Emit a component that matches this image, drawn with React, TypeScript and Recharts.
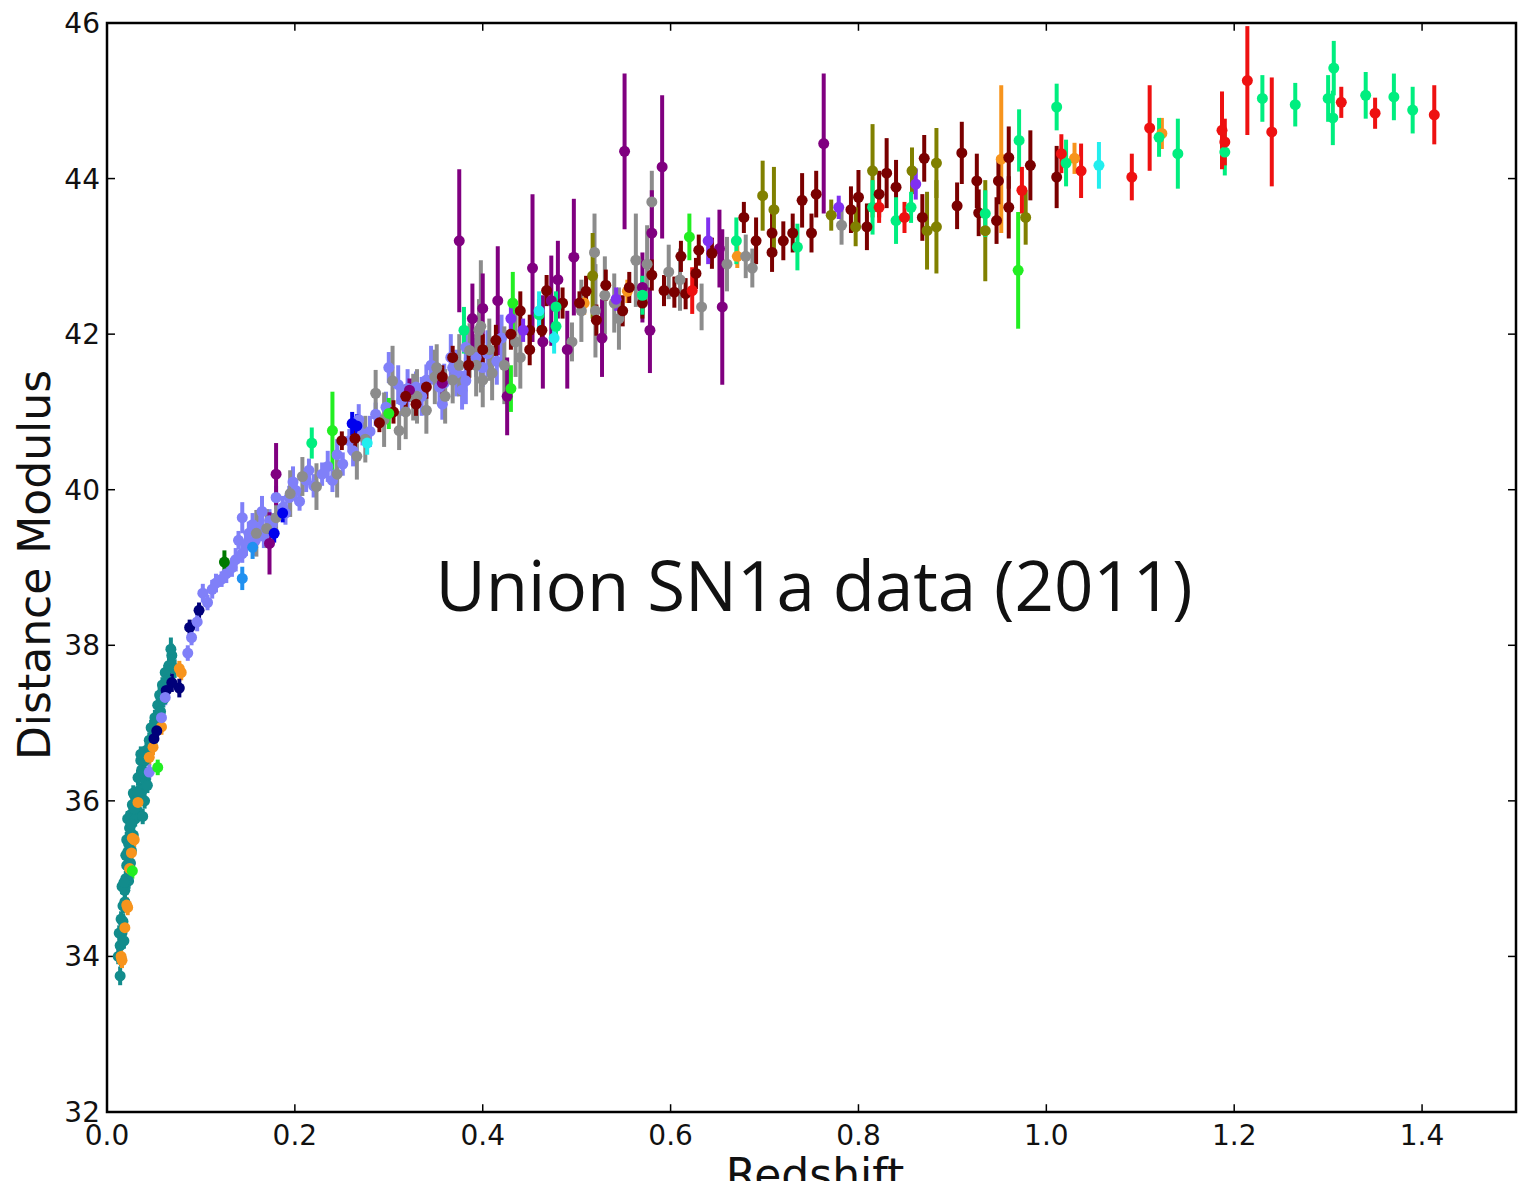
import { ScatterChart, Scatter, XAxis, YAxis, ErrorBar, ReferenceArea, ReferenceLine } from 'recharts'

// each point: [redshift, distance modulus, 1-sigma error]
type Pt = [number, number, number]

const teal: Pt[] = [
  [0.014, 33.75, 0.12], [0.015, 33.97, 0.1], [0.014, 34.14, 0.1], [0.016, 34.3, 0.1], [0.015, 34.48, 0.1],
  [0.017, 34.65, 0.1], [0.019, 34.85, 0.1], [0.02, 35.0, 0.1], [0.021, 35.17, 0.1], [0.022, 35.34, 0.1],
  [0.021, 35.5, 0.1], [0.024, 35.65, 0.1], [0.025, 35.82, 0.1], [0.027, 35.95, 0.1], [0.029, 36.08, 0.1],
  [0.032, 35.88, 0.1], [0.035, 36.14, 0.1], [0.033, 36.3, 0.1], [0.037, 36.4, 0.1], [0.04, 36.52, 0.1],
  [0.042, 36.65, 0.1], [0.045, 36.78, 0.1], [0.047, 36.94, 0.1], [0.051, 37.07, 0.1], [0.054, 37.23, 0.1],
  [0.056, 37.36, 0.1], [0.059, 37.49, 0.1], [0.062, 37.65, 0.1], [0.066, 37.74, 0.15], [0.069, 37.87, 0.15],
  [0.019, 34.7, 0.1], [0.023, 34.97, 0.1], [0.026, 35.36, 0.1], [0.028, 35.56, 0.1], [0.022, 35.77, 0.1],
  [0.03, 35.77, 0.1], [0.034, 36.01, 0.1], [0.038, 36.14, 0.1], [0.036, 36.52, 0.1], [0.041, 36.27, 0.1],
  [0.013, 34.3, 0.1], [0.018, 34.2, 0.1], [0.016, 34.9, 0.1], [0.02, 35.3, 0.1], [0.028, 36.1, 0.1],
  [0.031, 36.0, 0.1], [0.072, 37.7, 0.12], [0.012, 34.0, 0.1], [0.017, 34.45, 0.1], [0.018, 34.95, 0.1],
  [0.023, 35.45, 0.1], [0.025, 35.2, 0.1], [0.026, 35.7, 0.1], [0.029, 35.9, 0.1], [0.033, 36.1, 0.1],
  [0.039, 36.35, 0.1], [0.043, 36.55, 0.1], [0.048, 36.75, 0.1], [0.052, 37.0, 0.1], [0.057, 37.15, 0.1],
  [0.06, 37.3, 0.1], [0.064, 37.55, 0.12], [0.068, 37.95, 0.15], [0.04, 36.0, 0.1], [0.043, 36.2, 0.1],
  [0.038, 35.8, 0.1], [0.036, 36.6, 0.1],
]

const orange: Pt[] = [
  [0.016, 33.95, 0.1], [0.019, 34.37, 0.1], [0.021, 34.66, 0.1], [0.024, 35.13, 0.1], [0.026, 35.33, 0.1],
  [0.029, 35.5, 0.1], [0.033, 35.98, 0.1], [0.045, 36.56, 0.1], [0.049, 36.69, 0.1], [0.058, 36.95, 0.1],
  [0.079, 37.65, 0.1], [0.077, 37.7, 0.1], [0.015, 34.0, 0.1], [0.022, 34.63, 0.1], [0.027, 35.52, 0.1],
  [0.508, 42.4, 0.15], [0.554, 42.55, 0.15], [0.671, 43.0, 0.15], [0.952, 44.25, 0.95], [1.03, 44.26, 0.2],
  [1.123, 44.58, 0.2],
]

const navy: Pt[] = [
  [0.05, 36.8, 0.1], [0.053, 36.9, 0.1], [0.063, 37.42, 0.1], [0.069, 37.52, 0.12], [0.077, 37.45, 0.12],
  [0.088, 38.23, 0.1], [0.098, 38.45, 0.1],
]

const slate: Pt[] = [
  [0.045, 36.37, 0.1], [0.058, 37.07, 0.1], [0.062, 37.33, 0.1], [0.086, 37.9, 0.1], [0.09, 38.1, 0.1],
  [0.096, 38.3, 0.12], [0.102, 38.67, 0.12], [0.107, 38.55, 0.1], [0.112, 38.72, 0.12], [0.116, 38.8, 0.12],
  [0.122, 38.85, 0.1], [0.127, 38.92, 0.12], [0.133, 39.0, 0.12], [0.14, 39.35, 0.12], [0.144, 39.18, 0.12],
  [0.144, 39.64, 0.2], [0.151, 39.44, 0.15], [0.155, 39.55, 0.15], [0.162, 39.52, 0.15], [0.167, 39.4, 0.15],
  [0.173, 39.6, 0.15], [0.18, 39.9, 0.15], [0.187, 39.77, 0.15], [0.194, 39.9, 0.15], [0.201, 39.99, 0.15],
  [0.205, 39.85, 0.12], [0.212, 40.12, 0.15], [0.215, 40.25, 0.15], [0.229, 40.2, 0.15], [0.24, 40.12, 0.15],
  [0.251, 40.33, 0.15], [0.258, 40.63, 0.15], [0.272, 40.72, 0.15], [0.286, 40.97, 0.15], [0.297, 41.06, 0.2],
  [0.3, 41.57, 0.2], [0.314, 41.15, 0.2], [0.32, 41.3, 0.25], [0.329, 41.32, 0.2], [0.34, 41.41, 0.2],
  [0.354, 41.32, 0.2], [0.357, 41.1, 0.2], [0.359, 41.37, 0.25], [0.366, 41.7, 0.3], [0.368, 41.57, 0.2],
  [0.378, 41.28, 0.25], [0.382, 41.4, 0.3], [0.382, 41.83, 0.25], [0.393, 41.7, 0.25], [0.4, 41.57, 0.25],
  [0.137, 39.1, 0.15], [0.148, 39.3, 0.15], [0.158, 39.35, 0.2], [0.165, 39.72, 0.2], [0.176, 39.55, 0.15],
  [0.19, 39.7, 0.15], [0.198, 40.1, 0.2], [0.22, 40.05, 0.15], [0.235, 40.3, 0.2], [0.245, 40.45, 0.2],
  [0.262, 40.5, 0.2], [0.268, 40.9, 0.2], [0.28, 40.75, 0.2], [0.31, 41.35, 0.25], [0.335, 41.2, 0.25],
  [0.345, 41.6, 0.25], [0.372, 41.5, 0.3], [0.405, 41.75, 0.3], [0.415, 41.65, 0.3], [0.42, 41.95, 0.3],
]

const gray: Pt[] = [
  [0.159, 39.44, 0.3], [0.18, 39.64, 0.25], [0.208, 40.17, 0.25], [0.223, 40.04, 0.3], [0.266, 40.43, 0.3],
  [0.286, 41.24, 0.3], [0.304, 41.4, 0.45], [0.311, 40.76, 0.25], [0.326, 41.19, 0.3], [0.33, 41.2, 0.35],
  [0.34, 41.02, 0.3], [0.349, 41.45, 0.35], [0.351, 41.57, 0.3], [0.368, 41.41, 0.3], [0.386, 41.79, 0.35],
  [0.393, 41.6, 0.4], [0.396, 42.05, 0.4], [0.398, 42.1, 0.85], [0.4, 41.41, 0.35], [0.407, 41.8, 0.4],
  [0.41, 41.5, 0.35], [0.423, 41.6, 0.5], [0.495, 41.9, 0.25], [0.519, 43.05, 0.5], [0.52, 42.3, 0.6],
  [0.54, 42.4, 0.38], [0.563, 42.95, 0.6], [0.58, 43.7, 0.4], [0.598, 42.8, 0.35], [0.633, 42.35, 0.3],
  [0.68, 43.0, 0.28], [0.687, 42.85, 0.25], [0.782, 43.4, 0.25], [0.17, 39.5, 0.25], [0.195, 39.95, 0.3],
  [0.245, 40.2, 0.3], [0.275, 40.65, 0.3], [0.295, 40.9, 0.35], [0.318, 41.0, 0.35], [0.36, 41.2, 0.35],
  [0.375, 41.6, 0.4], [0.435, 41.9, 0.45], [0.44, 41.7, 0.4], [0.505, 42.3, 0.4], [0.53, 42.5, 0.5],
  [0.545, 42.2, 0.4], [0.575, 42.9, 0.5], [0.61, 42.7, 0.4], [0.66, 42.9, 0.35],
]

const maroon: Pt[] = [
  [0.25, 40.63, 0.12], [0.264, 40.66, 0.12], [0.29, 40.86, 0.12], [0.329, 41.1, 0.15], [0.34, 41.32, 0.15],
  [0.357, 41.45, 0.15], [0.368, 41.7, 0.15], [0.414, 41.92, 0.2], [0.45, 42.05, 0.2], [0.45, 41.8, 0.2],
  [0.463, 42.05, 0.2], [0.468, 42.56, 0.2], [0.503, 42.4, 0.15], [0.521, 42.18, 0.2], [0.531, 42.63, 0.2],
  [0.549, 42.3, 0.2], [0.556, 42.6, 0.2], [0.57, 42.4, 0.2], [0.58, 42.76, 0.2], [0.593, 42.56, 0.2],
  [0.604, 42.54, 0.2], [0.611, 43.0, 0.2], [0.616, 42.52, 0.2], [0.627, 42.78, 0.2], [0.63, 43.08, 0.2],
  [0.644, 43.04, 0.2], [0.678, 43.5, 0.2], [0.691, 43.2, 0.3], [0.708, 43.3, 0.3], [0.708, 43.05, 0.25],
  [0.72, 43.2, 0.25], [0.73, 43.3, 0.25], [0.74, 43.72, 0.35], [0.75, 43.3, 0.25], [0.755, 43.8, 0.3],
  [0.792, 43.6, 0.3], [0.8, 43.76, 0.35], [0.809, 43.38, 0.3], [0.822, 43.8, 0.3], [0.83, 44.07, 0.45],
  [0.84, 43.89, 0.35], [0.868, 43.5, 0.3], [0.87, 44.26, 0.3], [0.905, 43.65, 0.3], [0.91, 44.33, 0.4],
  [0.926, 43.97, 0.35], [0.928, 43.56, 0.3], [0.947, 43.46, 0.3], [0.949, 43.97, 0.3], [0.96, 43.63, 0.4],
  [0.96, 44.27, 0.4], [0.983, 44.17, 0.45], [1.011, 44.02, 0.4], [0.305, 41.0, 0.15], [0.318, 41.2, 0.15],
  [0.385, 41.6, 0.2], [0.4, 41.8, 0.2], [0.43, 42.0, 0.2], [0.44, 42.3, 0.25], [0.485, 42.4, 0.2],
  [0.51, 42.55, 0.2],
]

const purple: Pt[] = [
  [0.173, 39.31, 0.4], [0.18, 40.2, 0.4], [0.322, 41.28, 0.15], [0.357, 41.37, 0.15], [0.375, 43.2, 0.92],
  [0.389, 42.2, 0.45], [0.4, 42.33, 0.45], [0.416, 42.43, 0.7], [0.426, 41.2, 0.5], [0.453, 42.85, 0.95],
  [0.464, 41.9, 0.6], [0.473, 42.43, 0.58], [0.48, 42.7, 0.5], [0.49, 41.8, 0.5], [0.497, 42.99, 0.75],
  [0.527, 41.95, 0.5], [0.551, 44.35, 1.0], [0.57, 42.6, 0.45], [0.58, 43.3, 0.55], [0.578, 42.05, 0.55],
  [0.591, 44.15, 0.92], [0.655, 42.35, 1.0], [0.652, 43.1, 0.5], [0.763, 44.45, 0.9],
]

const olive: Pt[] = [
  [0.517, 42.75, 0.55], [0.698, 43.78, 0.45], [0.71, 43.6, 0.55], [0.771, 43.53, 0.2], [0.797, 43.38, 0.25],
  [0.815, 44.1, 0.6], [0.857, 44.1, 0.3], [0.873, 43.33, 0.5], [0.883, 44.2, 0.45], [0.883, 43.38, 0.6],
  [0.935, 43.33, 0.65], [0.978, 43.5, 0.35],
]

const springGreen: Pt[] = [
  [0.218, 40.6, 0.2], [0.38, 42.05, 0.3], [0.46, 42.25, 0.2], [0.478, 42.1, 0.2], [0.478, 42.35, 0.2],
  [0.57, 42.5, 0.25], [0.67, 43.2, 0.3], [0.735, 43.12, 0.3], [0.815, 43.63, 0.35], [0.84, 43.46, 0.3],
  [0.856, 43.63, 0.2], [0.935, 43.55, 0.3], [0.971, 44.49, 0.4], [1.011, 44.92, 0.3], [1.021, 44.2, 0.3],
  [1.12, 44.53, 0.25], [1.14, 44.32, 0.45], [1.19, 44.34, 0.3], [1.23, 45.03, 0.3], [1.265, 44.95, 0.28],
  [1.3, 45.03, 0.3], [1.306, 45.42, 0.35], [1.305, 44.78, 0.35], [1.34, 45.07, 0.3], [1.37, 45.05, 0.3],
  [1.39, 44.88, 0.3],
]

const lime: Pt[] = [
  [0.027, 35.1, 0.1], [0.054, 36.43, 0.1], [0.24, 40.76, 0.5], [0.3, 40.98, 0.2], [0.432, 42.4, 0.4],
  [0.43, 41.3, 0.3], [0.62, 43.25, 0.3], [0.97, 42.82, 0.75],
]

const red: Pt[] = [
  [0.623, 42.56, 0.3], [0.822, 43.63, 0.2], [0.849, 43.5, 0.2], [0.974, 43.85, 0.3], [1.016, 44.32, 0.25],
  [1.037, 44.1, 0.35], [1.091, 44.02, 0.3], [1.11, 44.65, 0.55], [1.187, 44.62, 0.5], [1.19, 44.47, 0.3],
  [1.214, 45.26, 0.7], [1.24, 44.6, 0.7], [1.314, 44.98, 0.2], [1.35, 44.84, 0.2], [1.413, 44.82, 0.38],
]

const cyan: Pt[] = [
  [0.277, 40.6, 0.15], [0.46, 42.3, 0.25], [0.476, 41.95, 0.2], [1.056, 44.17, 0.3],
]

const blue: Pt[] = [
  [0.178, 39.44, 0.12], [0.187, 39.7, 0.12], [0.261, 40.85, 0.15], [0.266, 40.82, 0.15],
]

const violet: Pt[] = [
  [0.43, 42.2, 0.2], [0.443, 42.05, 0.15], [0.542, 42.45, 0.15], [0.64, 43.2, 0.3], [0.779, 43.63, 0.15],
  [0.861, 43.93, 0.2],
]

const darkGreen: Pt[] = [[0.125, 39.07, 0.15]]

const dodger: Pt[] = [[0.144, 38.86, 0.15], [0.155, 39.26, 0.15]]

const surveys = [
  { key: 'teal', color: '#128C8C', points: teal },
  { key: 'orange', color: '#F7941D', points: orange },
  { key: 'navy', color: '#00007A', points: navy },
  { key: 'slate', color: '#8080F8', points: slate },
  { key: 'gray', color: '#8C8C8C', points: gray },
  { key: 'purple', color: '#800080', points: purple },
  { key: 'maroon', color: '#7A0000', points: maroon },
  { key: 'olive', color: '#808000', points: olive },
  { key: 'lime', color: '#22EE22', points: lime },
  { key: 'springGreen', color: '#00EE7F', points: springGreen },
  { key: 'red', color: '#EE1111', points: red },
  { key: 'cyan', color: '#22EEEE', points: cyan },
  { key: 'blue', color: '#0000EE', points: blue },
  { key: 'violet', color: '#8030F0', points: violet },
  { key: 'darkGreen', color: '#007A00', points: darkGreen },
  { key: 'dodger', color: '#2090F0', points: dodger },
]

const xTicks = [0, 0.2, 0.4, 0.6, 0.8, 1.0, 1.2, 1.4]
const yTicks = [32, 34, 36, 38, 40, 42, 44, 46]
const xDomain: [number, number] = [0, 1.5]
const yDomain: [number, number] = [32, 46]

const W = 1518
const H = 1181
const font = '"DejaVu Sans", Verdana, sans-serif'
const tickText = { fill: '#111', fontSize: 28, fontFamily: font }
// inward tick length, in data units (about 8px each way)
const xTickLen = 0.0085
const yTickLen = 0.1

const dot = (color: string) => (props: any) => (
  <circle cx={props.cx} cy={props.cy} r={5.5} fill={color} />
)

export default function App() {
  return (
    <div style={{ position: 'absolute', left: 0, top: 0, width: W, height: H, background: '#fff' }}>
      <ScatterChart width={W} height={H} margin={{ top: 23, right: 2, bottom: 0, left: 0 }}>
        <XAxis
          type="number"
          dataKey="z"
          domain={xDomain}
          ticks={xTicks}
          tickFormatter={(v: number) => v.toFixed(1)}
          allowDataOverflow
          height={69}
          tickSize={0}
          tickMargin={13}
          axisLine={false}
          tickLine={false}
          tick={tickText}
        />
        <YAxis
          type="number"
          dataKey="mu"
          domain={yDomain}
          ticks={yTicks}
          allowDataOverflow
          width={107}
          tickSize={0}
          tickMargin={7}
          axisLine={false}
          tickLine={false}
          tick={tickText}
        />
        {surveys.map((s) => (
          <Scatter
            key={s.key}
            name={s.key}
            data={s.points.map(([z, mu, err]) => ({ z, mu, err }))}
            fill={s.color}
            shape={dot(s.color)}
            isAnimationActive={false}
          >
            <ErrorBar dataKey="err" direction="y" width={0} stroke={s.color} strokeWidth={4} isAnimationActive={false} />
          </Scatter>
        ))}
        {xTicks.map((t) => (
          <ReferenceLine key={`xb${t}`} segment={[{ x: t, y: yDomain[0] }, { x: t, y: yDomain[0] + yTickLen }]} stroke="#000" strokeWidth={1.5} ifOverflow="visible" />
        ))}
        {xTicks.map((t) => (
          <ReferenceLine key={`xt${t}`} segment={[{ x: t, y: yDomain[1] }, { x: t, y: yDomain[1] - yTickLen }]} stroke="#000" strokeWidth={1.5} ifOverflow="visible" />
        ))}
        {yTicks.map((t) => (
          <ReferenceLine key={`yl${t}`} segment={[{ x: xDomain[0], y: t }, { x: xDomain[0] + xTickLen, y: t }]} stroke="#000" strokeWidth={1.5} ifOverflow="visible" />
        ))}
        {yTicks.map((t) => (
          <ReferenceLine key={`yr${t}`} segment={[{ x: xDomain[1], y: t }, { x: xDomain[1] - xTickLen, y: t }]} stroke="#000" strokeWidth={1.5} ifOverflow="visible" />
        ))}
        <ReferenceArea x1={xDomain[0]} x2={xDomain[1]} y1={yDomain[0]} y2={yDomain[1]} fill="none" stroke="#000" strokeWidth={2.5} ifOverflow="visible" />
      </ScatterChart>
      <svg width={W} height={H} style={{ position: 'absolute', left: 0, top: 0, pointerEvents: 'none' }}>
        <text x={50} y={565} transform="rotate(-90 50 565)" textAnchor="middle" fontSize={44} fontFamily={font} fill="#111">
          Distance Modulus
        </text>
        <text x={815} y={1190} textAnchor="middle" fontSize={44} fontFamily={font} fill="#111">
          Redshift
        </text>
        <text x={814} y={611} textAnchor="middle" fontSize={69} fontFamily='"Open Sans", sans-serif' fill="#111">
          Union SN1a data (2011)
        </text>
      </svg>
    </div>
  )
}
